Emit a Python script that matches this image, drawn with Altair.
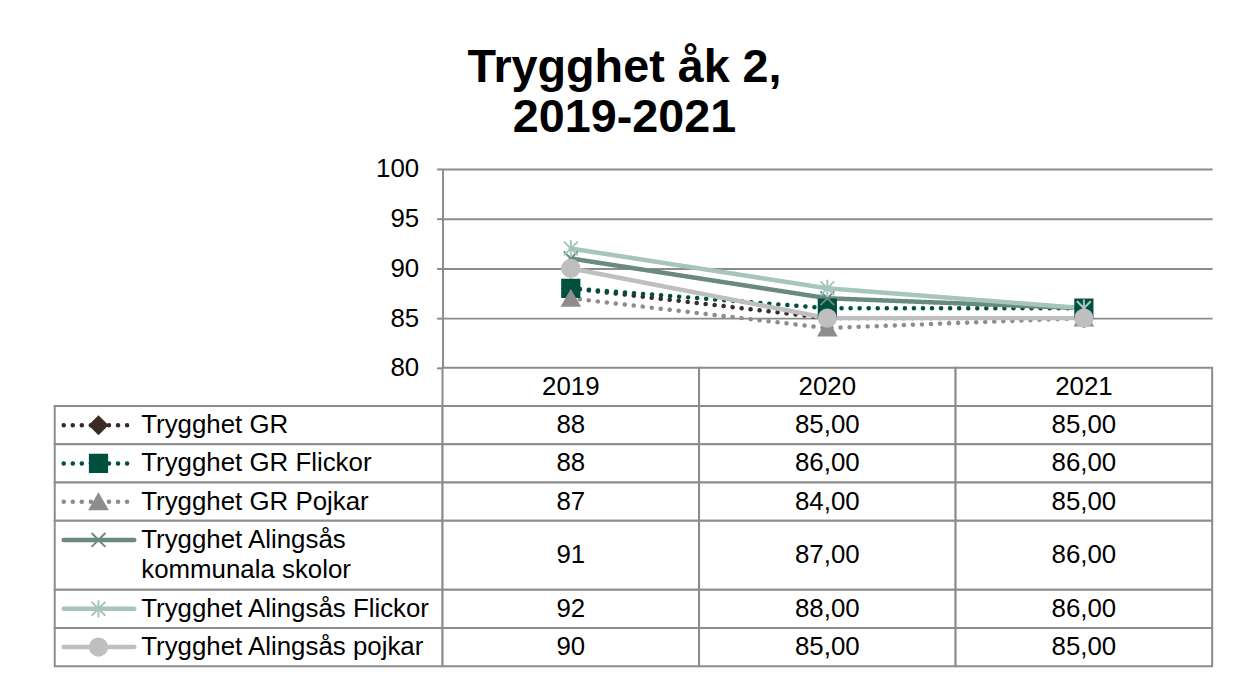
import altair as alt
import pandas as pd

FONT = "Liberation Sans"
GRID = "#8c8c8c"

YEARS = ["2019", "2020", "2021"]
SERIES = [
    "Trygghet GR",
    "Trygghet GR Flickor",
    "Trygghet GR Pojkar",
    "Trygghet Alingsås kommunala skolor",
    "Trygghet Alingsås Flickor",
    "Trygghet Alingsås pojkar",
]
LEGEND_LABELS = [
    ["Trygghet GR"],
    ["Trygghet GR Flickor"],
    ["Trygghet GR Pojkar"],
    ["Trygghet Alingsås", "kommunala skolor"],
    ["Trygghet Alingsås Flickor"],
    ["Trygghet Alingsås pojkar"],
]
GR = [88, 85, 85]
GR_FLICKOR = [88, 86, 86]
GR_POJKAR = [87, 84, 85]
ALINGSAS = [91, 87, 86]
ALINGSAS_FLICKOR = [92, 88, 86]
ALINGSAS_POJKAR = [90, 85, 85]
VALUES = [GR, GR_FLICKOR, GR_POJKAR, ALINGSAS, ALINGSAS_FLICKOR, ALINGSAS_POJKAR]
Y_TICKS = [80, 85, 90, 95, 100]

COLORS = ["#3b2b27", "#00503f", "#8f8c8c", "#6a8a7e", "#a7c4bd", "#bfbfbf"]
DASHES = [[0.1, 9], [0.1, 9], [0.1, 9], [1, 0], [1, 0], [1, 0]]
WIDTHS = [4.5, 4.5, 4.5, 5.5, 5.5, 5.5]
X_PATH = "M-0.8,-0.8L0.8,0.8M-0.8,0.8L0.8,-0.8"
STAR_PATH = "M-0.8,-0.8L0.8,0.8M-0.8,0.8L0.8,-0.8M0,-1L0,1"
SHAPES = ["diamond", "square", "triangle-up", X_PATH, STAR_PATH, "circle"]

PLOT_W, PLOT_H = 774, 200
LEG_W, TAB_H = 390, 300
LINE_UNIT = 0.8  # extra row height (in row units) per additional text line


def fmt(year, v):
    if year == YEARS[0]:
        return f"{v:.0f}"
    return f"{v:.2f}".replace(".", ",")


# long data for plot and table
recs = []
for s, vals in zip(SERIES, VALUES):
    for yr, v in zip(YEARS, vals):
        recs.append({"series": s, "year": yr, "value": v, "label": fmt(yr, v)})
df = pd.DataFrame(recs)

# table row layout derived from number of label lines
units = [1.0] + [1.0 + LINE_UNIT * (len(lab) - 1) for lab in LEGEND_LABELS]
tops = [sum(units[:i]) for i in range(len(units))]
TOTAL = sum(units)
rows = pd.DataFrame({
    "row": ["header"] + SERIES,
    "top": tops,
    "bottom": [t + u for t, u in zip(tops, units)],
})
rows["center"] = (rows["top"] + rows["bottom"]) / 2
rows["symy"] = rows["top"] + 0.5
rows["series"] = rows["row"]

cell_recs = []
for _, r in rows.iterrows():
    for yr in YEARS:
        if r["row"] == "header":
            txt = yr
        else:
            txt = df[(df.series == r["row"]) & (df.year == yr)]["label"].iloc[0]
        cell_recs.append({"year": yr, "top": r["top"], "bottom": r["bottom"],
                          "center": r["center"], "text": txt})
cells = pd.DataFrame(cell_recs)
leg_rows = rows[rows.row != "header"]

leg_text_recs = []
for s, lab, t in zip(SERIES, LEGEND_LABELS, tops[1:]):
    for i, line in enumerate(lab):
        leg_text_recs.append({"series": s, "text": line, "ty": t + 0.5 + LINE_UNIT * i})
leg_texts = pd.DataFrame(leg_text_recs)

color = alt.Color("series:N", scale=alt.Scale(domain=SERIES, range=COLORS), legend=None)
stroke = alt.Stroke("series:N", scale=alt.Scale(domain=SERIES, range=COLORS), legend=None)
dash = alt.StrokeDash("series:N", scale=alt.Scale(domain=SERIES, range=DASHES), legend=None)
swidth = alt.StrokeWidth("series:N", scale=alt.Scale(domain=SERIES, range=WIDTHS), legend=None)
shape = alt.Shape("series:N", scale=alt.Scale(domain=SERIES, range=SHAPES), legend=None)

# ---- line chart ----
x_line = alt.X("year:O", scale=alt.Scale(domain=YEARS, type="point", padding=0.5), axis=None)
y_line = alt.Y(
    "value:Q",
    scale=alt.Scale(domain=[80, 100], nice=False, zero=False),
    axis=alt.Axis(values=Y_TICKS, title=None, labelFontSize=26, labelFont=FONT,
                  labelColor="#000000", tickColor=GRID, tickSize=6, tickWidth=2,
                  domainColor=GRID, domainWidth=2, gridColor=GRID, gridWidth=2,
                  labelPadding=18),
)
base = alt.Chart(df)
lines = base.mark_line(strokeCap="round", strokeJoin="round").encode(
    x=x_line, y=y_line, color=color, strokeDash=dash, strokeWidth=swidth)
points = base.mark_point(filled=True, size=300, strokeWidth=2, opacity=1).encode(
    x=x_line, y=y_line, color=color, stroke=stroke, shape=shape)
line_chart = alt.layer(lines, points).properties(width=PLOT_W, height=PLOT_H)

# ---- spacer ----
spacer = alt.Chart(pd.DataFrame({"a": [0]})).mark_text().encode(
    text=alt.value("")).properties(width=LEG_W, height=PLOT_H)

# ---- table ----
y_scale = alt.Scale(domain=[0, TOTAL], reverse=True, nice=False, zero=False)
x_tab = alt.X("year:N", scale=alt.Scale(domain=YEARS, paddingInner=0, paddingOuter=0), axis=None)
tab_rect = alt.Chart(cells).mark_rect(fill="white", stroke=GRID, strokeWidth=2).encode(
    x=x_tab, y=alt.Y("top:Q", scale=y_scale, axis=None), y2="bottom:Q")
tab_text = alt.Chart(cells).mark_text(font=FONT, fontSize=26, color="#000000", baseline="middle").encode(
    x=x_tab, y=alt.Y("center:Q", scale=y_scale, axis=None), text="text:N")
table = alt.layer(tab_rect, tab_text).properties(width=PLOT_W, height=TAB_H)

# ---- legend column ----
leg_rect = alt.Chart(leg_rows).mark_rect(fill="white", stroke=GRID, strokeWidth=2).encode(
    x=alt.value(0), x2=alt.value(LEG_W),
    y=alt.Y("top:Q", scale=y_scale, axis=None), y2="bottom:Q")
leg_rule = alt.Chart(leg_rows).mark_rule(strokeCap="round").encode(
    x=alt.value(9), x2=alt.value(80),
    y=alt.Y("symy:Q", scale=y_scale, axis=None),
    color=color, strokeDash=dash, strokeWidth=swidth)
leg_pt = alt.Chart(leg_rows).mark_point(filled=True, size=300, strokeWidth=2, opacity=1).encode(
    x=alt.value(44), y=alt.Y("symy:Q", scale=y_scale, axis=None),
    color=color, stroke=stroke, shape=shape)
leg_text = alt.Chart(leg_texts).mark_text(font=FONT, fontSize=26, color="#000000", align="left",
                                           baseline="middle").encode(
    x=alt.value(87), y=alt.Y("ty:Q", scale=y_scale, axis=None), text="text:N")
legend_col = alt.layer(leg_rect, leg_rule, leg_pt, leg_text).properties(width=LEG_W, height=TAB_H)

chart = alt.ConcatChart(
    concat=[spacer, line_chart, legend_col, table],
    columns=2, spacing=0, bounds="flush",
).properties(
    title=alt.TitleParams(text=["Trygghet åk 2,", "2019-2021"], fontSize=47, font=FONT,
                          fontWeight="bold", anchor="middle", color="#000000",
                          lineHeight=50, offset=14, dx=-9),
    padding={"left": 45, "top": 34, "right": 25, "bottom": 5},
).configure_view(stroke="transparent")

chart.save("out.html", embed_options={"renderer": "svg", "actions": False})
